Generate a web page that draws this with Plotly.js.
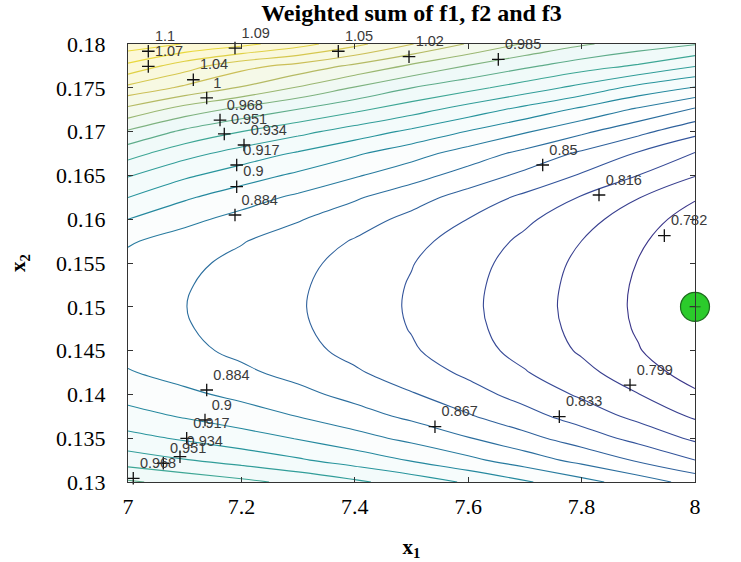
<!DOCTYPE html>
<html><head><meta charset="utf-8">
<script src="https://cdn.plot.ly/plotly-3.0.1.min.js"></script>
<style>html,body{margin:0;padding:0;background:#fff}#chart{width:741px;height:562px}</style>
</head><body><div id="chart"></div>
<script>
// grid of the weighted sum
const x1Values = [7.0, 7.1, 7.2, 7.3, 7.4, 7.5, 7.6, 7.7, 7.8, 7.9, 8.0];
const x2Values = [0.13, 0.1325, 0.135, 0.1375, 0.14, 0.1425, 0.145, 0.1475, 0.15, 0.1525, 0.155,
                  0.1575, 0.16, 0.1625, 0.165, 0.1675, 0.17, 0.1725, 0.175, 0.1775, 0.18];
const weightedSum = [
  [0.970, 0.9625, 0.955, 0.9468, 0.9371, 0.9267, 0.915, 0.9024, 0.8891, 0.8752, 0.8605],
  [0.9425, 0.935, 0.9275, 0.9193, 0.9096, 0.8992, 0.8875, 0.8749, 0.8616, 0.8477, 0.833],
  [0.9225, 0.915, 0.9075, 0.8993, 0.8896, 0.8792, 0.8675, 0.8549, 0.8416, 0.8277, 0.813],
  [0.9065, 0.899, 0.8915, 0.8833, 0.8736, 0.8632, 0.8515, 0.8389, 0.8256, 0.8117, 0.797],
  [0.8945, 0.887, 0.8795, 0.8713, 0.8616, 0.8512, 0.8395, 0.8269, 0.8136, 0.7997, 0.785],
  [0.8848, 0.8773, 0.8698, 0.8616, 0.8519, 0.8415, 0.8298, 0.8172, 0.8039, 0.790, 0.7753],
  [0.8782, 0.8707, 0.8632, 0.855, 0.8453, 0.8349, 0.8232, 0.8106, 0.7973, 0.7834, 0.7687],
  [0.8755, 0.868, 0.8605, 0.8523, 0.8426, 0.8322, 0.8205, 0.8079, 0.7946, 0.7807, 0.766],
  [0.8745, 0.867, 0.8595, 0.8513, 0.8416, 0.8312, 0.8195, 0.8069, 0.7936, 0.7797, 0.765],
  [0.8755, 0.8679, 0.8603, 0.852, 0.8423, 0.8318, 0.8201, 0.8075, 0.7942, 0.7802, 0.7655],
  [0.8785, 0.8704, 0.8626, 0.8541, 0.8443, 0.8337, 0.8219, 0.8092, 0.7958, 0.7818, 0.767],
  [0.8855, 0.8762, 0.8677, 0.8588, 0.8486, 0.8378, 0.8257, 0.8128, 0.7992, 0.785, 0.770],
  [0.9005, 0.8882, 0.878, 0.868, 0.857, 0.8455, 0.8327, 0.8193, 0.8052, 0.7905, 0.775],
  [0.9175, 0.9028, 0.8912, 0.8804, 0.8688, 0.8567, 0.8433, 0.8295, 0.815, 0.7999, 0.784],
  [0.9355, 0.9202, 0.9083, 0.8972, 0.8854, 0.8732, 0.8597, 0.8458, 0.8312, 0.816, 0.800],
  [0.9575, 0.9401, 0.927, 0.9152, 0.9028, 0.8901, 0.8761, 0.8619, 0.8469, 0.8314, 0.815],
  [0.9825, 0.9645, 0.9511, 0.939, 0.9265, 0.9137, 0.8995, 0.8852, 0.8701, 0.8545, 0.838],
  [1.0135, 0.994, 0.9797, 0.9671, 0.9542, 0.941, 0.9265, 0.9119, 0.8966, 0.8807, 0.864],
  [1.0475, 1.032, 1.017, 1.000, 0.9835, 0.968, 0.956, 0.943, 0.929, 0.912, 0.899],
  [1.082, 1.060, 1.041, 1.030, 1.015, 0.999, 0.984, 0.971, 0.959, 0.949, 0.935],
  [1.1126, 1.102, 1.091, 1.076, 1.057, 1.036, 1.017, 1.000, 0.987, 0.977, 0.969]
];

// contour label positions (clabel '+' marks) and texts
const labelX = [7.0358, 7.0358, 7.1152, 7.1388, 7.1623, 7.1698, 7.2046, 7.1917, 7.1917, 7.1887,
                7.1887, 7.3709, 7.4956, 7.6531, 7.7314, 7.8307, 7.9459,
                7.8854, 7.7607, 7.5414, 7.1388, 7.1358, 7.1035, 7.0917, 7.0623, 7.0093];
const labelY = [0.17917, 0.17745, 0.17592, 0.17384, 0.17132, 0.16973, 0.16847, 0.16619, 0.16371, 0.16048,
                0.17954, 0.17917, 0.17855, 0.17825, 0.16619, 0.16276, 0.15812,
                0.14107, 0.13746, 0.13631, 0.14050, 0.13708, 0.13499, 0.13289, 0.13214, 0.13042];
const labelText = ['1.1', '1.07', '1.04', '1', '0.968', '0.951', '0.934', '0.917', '0.9', '0.884',
                   '1.09', '1.05', '1.02', '0.985', '0.85', '0.816', '0.782',
                   '0.799', '0.833', '0.867', '0.884', '0.9', '0.917', '0.934', '0.951', '0.968'];

// optimum point
const optimumX = [8];
const optimumY = [0.15];

const levels = {start: 0.7824, end: 1.11, size: 0.01686};

const lineScale = [
  [0.0, '#3a3589'], [0.15, '#34509a'], [0.3, '#2a739f'], [0.42, '#22909e'],
  [0.55, '#3aa596'], [0.68, '#86b47c'], [0.82, '#c9bd5a'], [1.0, '#e9d83c']
];
const fillScale = [
  [0.0, '#ffffff'], [0.3, '#ffffff'], [0.45, '#f4fbfb'], [0.65, '#eef9f8'],
  [0.82, '#f6f9e6'], [1.0, '#fcf8d6']
];

const traces = [
  {
    type: 'contour', x: x1Values, y: x2Values, z: weightedSum,
    autocontour: false, contours: Object.assign({coloring: 'fill', showlines: false}, levels),
    colorscale: fillScale, zmin: 0.7824, zmax: 1.1027, showscale: false,
    line: {width: 0, smoothing: 1.2}, hoverinfo: 'skip'
  },
  {
    type: 'contour', x: x1Values, y: x2Values, z: weightedSum,
    autocontour: false, contours: Object.assign({coloring: 'lines'}, levels),
    colorscale: lineScale, zmin: 0.7824, zmax: 1.1027, showscale: false,
    line: {width: 1.1, smoothing: 1.2}
  },
  {
    type: 'scatter', mode: 'markers+text', x: labelX, y: labelY, text: labelText,
    textposition: 'top right', cliponaxis: false,
    textfont: {family: 'Liberation Sans, Arial, sans-serif', size: 14.5, color: '#3a3a3a'},
    marker: {symbol: 'cross-thin', size: 9, color: '#111', line: {color: '#111', width: 1.3}},
    showlegend: false
  },
  {
    type: 'scatter', mode: 'markers', x: optimumX, y: optimumY, cliponaxis: false,
    marker: {symbol: 'circle', size: 29, color: '#2bcb2b', line: {color: '#1d6b1d', width: 1.2}},
    showlegend: false
  },
  {
    type: 'scatter', mode: 'markers', x: optimumX, y: optimumY, cliponaxis: false,
    marker: {symbol: 'line-ew', size: 8, color: '#1d5a1d', line: {color: '#1d5a1d', width: 1}},
    showlegend: false
  }
];

const serif = 'Liberation Serif, Times New Roman, serif';
const layout = {
  width: 741, height: 562,
  margin: {l: 128, r: 46, t: 44, b: 80},
  paper_bgcolor: '#ffffff', plot_bgcolor: '#ffffff',
  showlegend: false,
  title: {text: '<b>Weighted sum of f1, f2 and f3</b>', font: {family: serif, size: 24, color: '#000'},
          x: 0.5, xref: 'paper', y: 0.978, yref: 'container', yanchor: 'middle'},
  xaxis: {
    range: [7, 8], dtick: 0.2, tick0: 7, ticks: 'inside', ticklen: 5, tickcolor: '#333',
    showline: true, linecolor: '#333', linewidth: 1, mirror: 'ticks', showgrid: false, zeroline: false,
    ticklabelstandoff: 5,
    tickfont: {family: serif, size: 22, color: '#000'},
    title: {text: '<b>x<sub>1</sub></b>', font: {family: serif, size: 21, color: '#000'}, standoff: 20}
  },
  yaxis: {
    range: [0.13, 0.18], dtick: 0.005, tick0: 0.13, ticks: 'inside', ticklen: 5, tickcolor: '#333',
    showline: true, linecolor: '#333', linewidth: 1, mirror: 'ticks', showgrid: false, zeroline: false,
    ticklabelstandoff: 17,
    tickfont: {family: serif, size: 22, color: '#000'},
    title: {text: '<b>x<sub>2</sub></b>', font: {family: serif, size: 21, color: '#000'}, standoff: 24}
  }
};

Plotly.newPlot('chart', traces, layout, {displayModeBar: false, staticPlot: true});
</script></body></html>
